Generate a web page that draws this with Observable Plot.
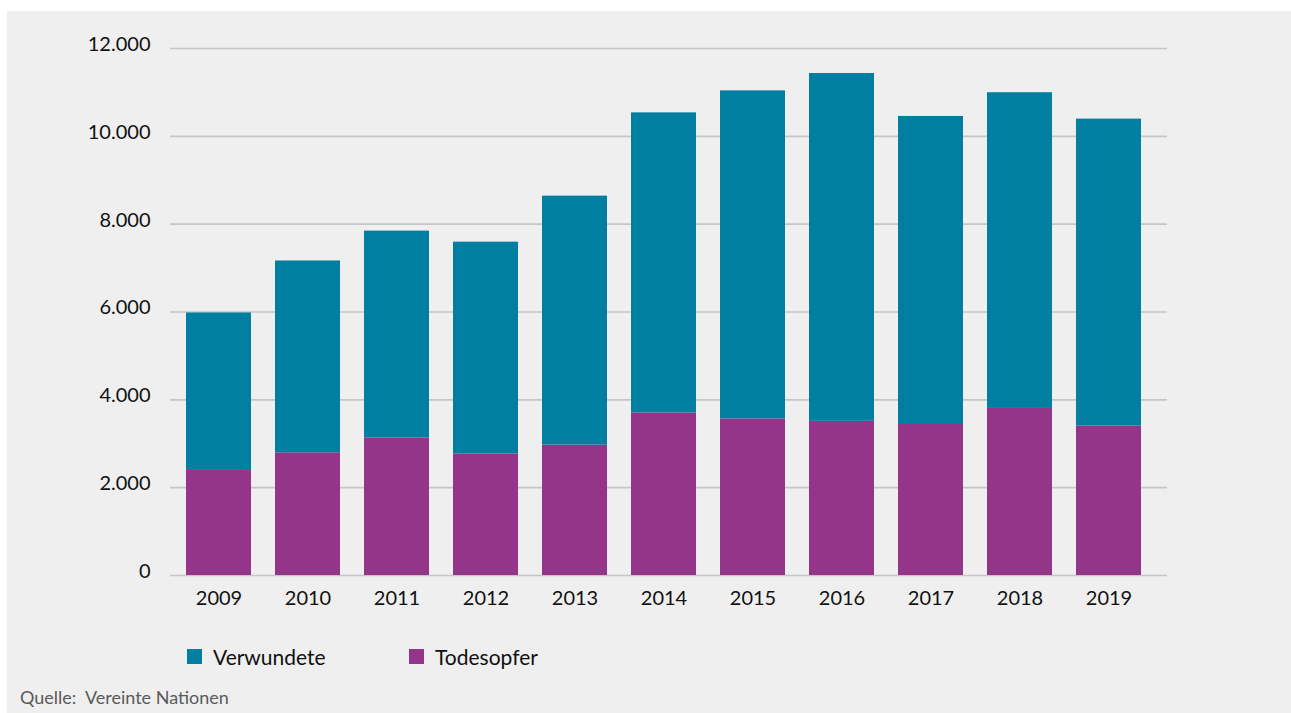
<!DOCTYPE html>
<html>
<head>
<meta charset="utf-8">
<script src="https://cdn.jsdelivr.net/npm/d3@7"></script>
<script src="https://cdn.jsdelivr.net/npm/@observablehq/plot@0.6"></script>
<style>
  html, body { margin: 0; padding: 0; background: #ffffff; }
  #panel { position: absolute; left: 7px; top: 11px; width: 1284px; height: 702px; background: #efefef; font-family: Lato, "Open Sans", sans-serif; }
  #chart { position: absolute; left: 0; top: 0; }
  .legend { position: absolute; top: 633px; font-size: 21px; color: #111; display: flex; align-items: center; }
  .sw { width: 15px; height: 15px; display: inline-block; margin-right: 11px; }
  #source { position: absolute; left: 13px; top: 675px; font-size: 18px; color: #5a5a5a; }
</style>
</head>
<body>
<div id="panel">
  <div id="chart"></div>
  <div class="legend" style="left:180px"><span class="sw" style="background:#007fa0"></span>Verwundete</div>
  <div class="legend" style="left:402px"><span class="sw" style="background:#94358a"></span>Todesopfer</div>
  <div id="source">Quelle:&nbsp; Vereinte Nationen</div>
</div>
<script>
const years = ["2009","2010","2011","2012","2013","2014","2015","2016","2017","2018","2019"];
const todesopfer = [2412, 2794, 3133, 2769, 2969, 3701, 3565, 3510, 3438, 3804, 3403];
const verwundete = [3566, 4368, 4709, 4821, 5669, 6833, 7470, 7920, 7015, 7189, 6989];
const seriesNames = ["Todesopfer", "Verwundete"];
const seriesColors = ["#94358a", "#007fa0"];
const yTicks = [0, 2000, 4000, 6000, 8000, 10000, 12000];

const table = years.flatMap((y, i) => [
  {year: y, series: "Todesopfer", value: todesopfer[i]},
  {year: y, series: "Verwundete", value: verwundete[i]}
]);

const de = d3.formatLocale({decimal: ",", thousands: ".", grouping: [3], currency: ["", " €"]});
const fmt = de.format(",d");

const chart = Plot.plot({
  width: 1284,
  height: 620,
  marginLeft: 163,
  marginRight: 124,
  marginTop: 37,
  marginBottom: 56,
  style: {background: "transparent", fontFamily: "Lato, 'Open Sans', sans-serif", fontSize: "20px", color: "#111"},
  x: {domain: years, range: [179, 1134.7], paddingInner: 0.273, paddingOuter: 0, label: null},
  y: {domain: [0, 12000], label: null},
  color: {domain: seriesNames, range: seriesColors},
  marks: [
    Plot.ruleY(yTicks, {stroke: "#c6c6c6", strokeWidth: 1.6}),
    Plot.barY(table, {x: "year", y: "value", fill: "series", order: seriesNames}),
    Plot.axisY({ticks: yTicks, tickFormat: fmt, tickSize: 0, tickPadding: 20, fontSize: 20, dy: -4, label: null}),
    Plot.axisX({tickSize: 0, tickPadding: 15, fontSize: 20, label: null})
  ]
});
document.getElementById("chart").appendChild(chart);
</script>
</body>
</html>
